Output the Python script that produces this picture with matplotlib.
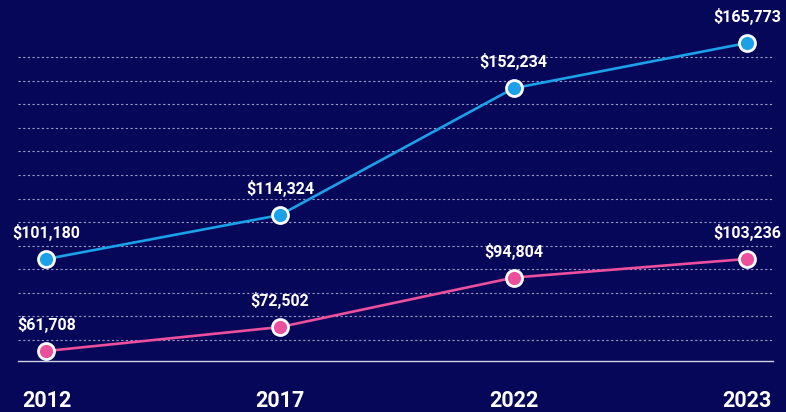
import matplotlib
matplotlib.use("Agg")
import matplotlib.pyplot as plt
import numpy as np

plt.rcParams['font.family'] = ['Roboto', 'DejaVu Sans']

years = ['2012', '2017', '2022', '2023']
blue_values = [101180, 114324, 152234, 165773]
pink_values = [61708, 72502, 94804, 103236]

bg = '#07075a'
blue = '#1ba1e9'
pink = '#ec4f9b'


def draw_series(ax, values, color):
    x = np.arange(len(values))
    ax.plot(x, values, color=color, lw=1.9, zorder=3, clip_on=False)
    ax.plot(x, values, 'o', ms=11.5, mfc=color, mec='white', mew=2,
            zorder=4, clip_on=False)
    for xi, v in zip(x, values):
        ax.annotate(f"${v:,}", (xi, v), xytext=(0, 19), textcoords='offset points',
                    ha='center', va='center', color='white', fontsize=11.5,
                    fontweight='bold', annotation_clip=False)


fig = plt.figure(figsize=(7.86, 4.12), dpi=100)
fig.patch.set_facecolor(bg)
ax = fig.add_axes([18 / 786, 51 / 412, 755 / 786, 327 / 412])
ax.set_facecolor(bg)

# blue series on the main axis, pink on its own hidden scale
ax.set_ylim(70682, 168455)
ax.set_xlim(-0.122, 3.111)
ax2 = ax.twinx()
ax2.set_ylim(57198, 204675)
ax2.patch.set_visible(False)

lo, hi = ax.get_ylim()
fracs = [(21 + 23.58 * k) / 327 for k in range(13)]
ax.set_yticks([lo + (hi - lo) * f for f in fracs])
ax.grid(axis='y', color='#9c9cc4', lw=0.8, linestyle=(0, (2, 2.2)))
ax.grid(axis='x', visible=False)
ax.set_axisbelow(True)

draw_series(ax, blue_values, blue)
draw_series(ax2, pink_values, pink)

for a in (ax, ax2):
    for s in ['top', 'left', 'right']:
        a.spines[s].set_visible(False)
    a.tick_params(axis='y', length=0, labelleft=False, labelright=False)
ax2.spines['bottom'].set_visible(False)
ax.spines['bottom'].set_color('#d0d0e6')
ax.spines['bottom'].set_linewidth(1)

ax.set_xticks(np.arange(len(years)))
ax.set_xticklabels(years)
ax.tick_params(axis='x', length=0, pad=21, labelsize=15.5, labelcolor='white')
for lab in ax.get_xticklabels():
    lab.set_fontweight('bold')
ax2.tick_params(axis='x', length=0, labelbottom=False)

fig.savefig('out.png', dpi=100, facecolor=bg)
